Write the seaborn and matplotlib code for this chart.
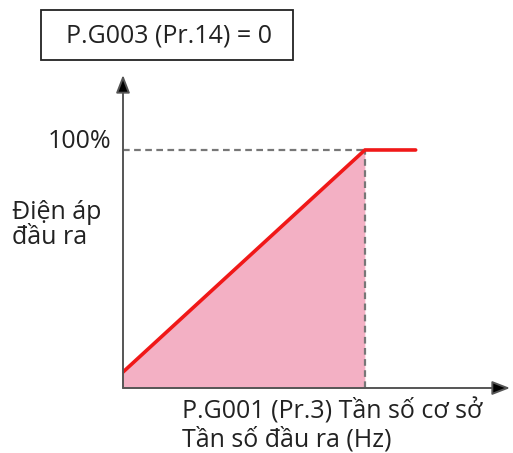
import matplotlib
matplotlib.use("Agg")
import matplotlib.pyplot as plt
import seaborn as sns
from matplotlib.patches import Rectangle

# output frequency (relative to base frequency) and output voltage (%)
freq = [0.0, 1.0, 1.21]
voltage = [6.7, 100.0, 100.0]
fill_freq = [0.0, 1.0]
fill_voltage = [6.7, 100.0]

title_text = "P.G003 (Pr.14) = 0"
y_tick_text = "100%"
y_label = "Điện áp\nđầu ra"
x_label_1 = "P.G001 (Pr.3) Tần số cơ sở"
x_label_2 = "Tần số đầu ra (Hz)"

sns.set_theme(style="white")
plt.rcParams["font.family"] = ["Open Sans", "DejaVu Sans"]

fig = plt.figure(figsize=(5.13, 4.53), dpi=100)
ax = fig.add_axes([123 / 513, 65 / 453, 387 / 513, 313 / 453])
ax.set_xlim(0, 1.60)
ax.set_ylim(0, 131.5)
ax.axis("off")

ax.fill_between(fill_freq, fill_voltage, 0, color="#f3b0c4", lw=0, zorder=1)
sns.lineplot(x=freq, y=voltage, color="#f01818", lw=2.6, ax=ax, zorder=4)

# dashed guides
ax.plot([0, 1.0], [100, 100], ls=(0, (3, 2)), color="#777777", lw=1.6, zorder=3)
ax.plot([1.0, 1.0], [0, 100], ls=(0, (3, 2)), color="#777777", lw=1.6, zorder=3)

# axes with arrows
for tip in [(1.0, 0), (0, 1.0)]:
    ax.annotate("", xy=tip, xytext=(0, 0), xycoords="axes fraction",
                arrowprops=dict(arrowstyle="-|>,head_length=0.9,head_width=0.35",
                                color="#555555", lw=1.4, shrinkA=0, shrinkB=0,
                                fc="black"), zorder=5)

fs = 18
fig.patches.append(Rectangle((41 / 513, 1 - 60 / 453), 252 / 513, 50 / 453,
                             transform=fig.transFigure, fc="white", ec="#222222", lw=1.3))
fig.text(169 / 513, 1 - 36 / 453, title_text, ha="center", va="center", fontsize=fs,
         color="#222222")
fig.text(48 / 513, 1 - 141 / 453, y_tick_text, ha="left", va="center", fontsize=fs, color="#222222")
fig.text(12 / 513, 1 - 225 / 453, y_label, ha="left", va="center", fontsize=fs,
         color="#222222", linespacing=1.05)
fig.text(182 / 513, 1 - 411 / 453, x_label_1, ha="left", va="center", fontsize=fs, color="#222222")
fig.text(182 / 513, 1 - 440 / 453, x_label_2, ha="left", va="center", fontsize=fs, color="#222222")

fig.savefig("out.png", dpi=100)
